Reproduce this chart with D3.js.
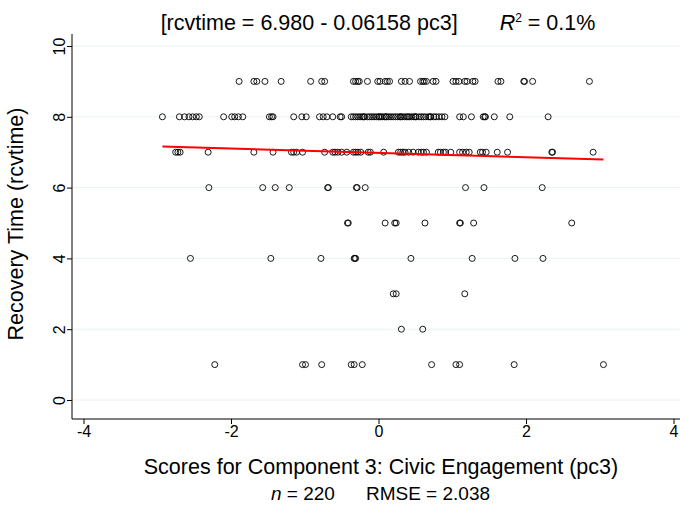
<!DOCTYPE html>
<html>
<head>
<meta charset="utf-8">
<script src="https://cdn.jsdelivr.net/npm/d3@7"></script>
<style>
  body { margin: 0; background: #fff; }
  svg { display: block; font-family: "Liberation Sans", Arial, sans-serif; }
</style>
</head>
<body>
<div id="chart"></div>
<script>
// pc3 scores grouped by recovery time (rcvtime)
const pc3At9 = [-1.89, -1.69, -1.65, -1.54, -1.32, -0.92, -0.77, -0.73, -0.34, -0.31, -0.28, -0.26,
  -0.15, -0.01, 0.02, 0.09, 0.12, 0.15, 0.31, 0.36, 0.42, 0.57, 0.60, 0.62, 0.65, 0.74, 0.78,
  1.01, 1.05, 1.09, 1.17, 1.20, 1.28, 1.31, 1.62, 1.66, 1.97, 1.98, 2.09, 2.86];
const pc3At8 = [-2.93, -2.70, -2.63, -2.57, -2.52, -2.47, -2.43, -2.10, -1.99, -1.95, -1.90, -1.84,
  -1.48, -1.45, -1.43, -1.15, -1.04, -0.98, -0.80, -0.75, -0.70, -0.62, -0.52, -0.50,
  -0.37, -0.34, -0.31, -0.28, -0.25, -0.22, -0.20, -0.19, -0.15, -0.12, -0.09, -0.06, -0.03,
  0.00, 0.01, 0.03, 0.05, 0.08, 0.10, 0.11, 0.14, 0.17, 0.20, 0.23, 0.26, 0.29, 0.30, 0.32,
  0.35, 0.38, 0.40, 0.42, 0.45, 0.48, 0.50, 0.51, 0.55, 0.58, 0.61, 0.64, 0.68, 0.70, 0.71,
  0.75, 0.78, 0.82, 0.86, 0.90, 1.10, 1.15, 1.26, 1.42, 1.44, 1.45, 1.57, 1.78, 2.30];
const pc3At7 = [-2.75, -2.72, -2.69, -2.31, -1.69, -1.43, -1.18, -1.15, -1.11, -1.03, -0.73,
  -0.62, -0.59, -0.55, -0.50, -0.43, -0.34, -0.31, -0.28, -0.24, -0.14, -0.11, 0.07, 0.27,
  0.30, 0.33, 0.36, 0.41, 0.47, 0.54, 0.58, 0.61, 0.65, 0.81, 0.84, 0.88, 0.91, 0.98, 1.10,
  1.14, 1.19, 1.23, 1.38, 1.41, 1.46, 1.61, 1.75, 2.35, 2.36, 2.91];
const pc3At6 = [-2.30, -1.57, -1.40, -1.21, -0.69, -0.68, -0.30, -0.29, -0.18, 1.18, 1.43, 2.22];
const pc3At5 = [-0.42, -0.41, 0.09, 0.22, 0.24, 0.63, 1.10, 1.11, 1.29, 2.62];
const pc3At4 = [-2.55, -1.46, -0.78, -0.33, -0.32, -0.31, 0.44, 1.27, 1.85, 2.23];
const pc3At3 = [0.20, 0.24, 1.17];
const pc3At2 = [0.31, 0.60];
const pc3At1 = [-2.22, -1.03, -0.99, -0.77, -0.37, -0.33, -0.22, 0.72, 1.05, 1.10, 1.84, 3.05];

// fitted line, from the title
const intercept = 6.980;
const slope = -0.06158;

const xTicks = [-4, -2, 0, 2, 4];
const yTicks = [0, 2, 4, 6, 8, 10];

const groups = [[9, pc3At9], [8, pc3At8], [7, pc3At7], [6, pc3At6], [5, pc3At5],
  [4, pc3At4], [3, pc3At3], [2, pc3At2], [1, pc3At1]];
const punti = [];
groups.forEach(([rcv, xs]) => xs.forEach(v => punti.push({ pc3: v, rcv })));

const width = 680, height = 506;
const svg = d3.select('#chart').append('svg')
  .attr('width', width).attr('height', height);

// scales: tick positions measured on the reference
const x = d3.scaleLinear().domain([-4, 4]).range([83.5, 673.5]);
const y = d3.scaleLinear().domain([0, 10]).range([400, 46]);
const plotL = 72, plotR = 680, plotT = 34, plotB = 419;

// gridlines
svg.append('g').selectAll('line')
  .data(yTicks).join('line')
  .attr('x1', plotL).attr('x2', plotR)
  .attr('y1', d => y(d)).attr('y2', d => y(d))
  .attr('stroke', '#eaf2f3').attr('stroke-width', 1);

// axes (plain hyphen for negatives, like the original)
const fmt = d => String(d);
const yAxis = svg.append('g')
  .attr('transform', `translate(${plotL},0)`)
  .call(d3.axisLeft(y).tickValues(yTicks).tickFormat(fmt).tickSize(5).tickSizeOuter(0));
yAxis.select('.domain').attr('d', `M0,${plotT}V${plotB}`);
yAxis.selectAll('.tick text')
  .attr('x', null).attr('dy', null)
  .attr('transform', 'translate(-7,0) rotate(-90)')
  .attr('text-anchor', 'middle')
  .style('font-size', '16px').style('fill', '#000');

const xAxis = svg.append('g')
  .attr('transform', `translate(0,${plotB})`)
  .call(d3.axisBottom(x).tickValues(xTicks).tickFormat(fmt).tickSize(5).tickPadding(2).tickSizeOuter(0));
xAxis.select('.domain').attr('d', `M${plotL},0H${plotR}`);
xAxis.selectAll('.tick text')
  .style('font-size', '16px').style('fill', '#000');
svg.selectAll('.domain, .tick line').attr('stroke', '#000').attr('stroke-width', 1);

// points
svg.append('g').selectAll('circle')
  .data(punti).join('circle')
  .attr('cx', d => x(d.pc3))
  .attr('cy', d => y(d.rcv))
  .attr('r', 3)
  .attr('fill', 'none')
  .attr('stroke', '#000')
  .attr('stroke-width', 0.9);

// regression line across the observed range
const [xmin, xmax] = d3.extent(punti, d => d.pc3);
svg.append('path')
  .datum([xmin, xmax])
  .attr('fill', 'none')
  .attr('stroke', '#ff0000')
  .attr('stroke-width', 2)
  .attr('d', d3.line().x(v => x(v)).y(v => y(intercept + slope * v)));

// titles
const title = svg.append('text')
  .attr('x', 378).attr('y', 30)
  .attr('text-anchor', 'middle')
  .style('font-size', '21.5px');
title.append('tspan').text('[rcvtime = 6.980 - 0.06158 pc3]');
title.append('tspan').attr('dx', 42).style('font-style', 'italic').text('R');
title.append('tspan').attr('dy', -8).style('font-size', '12px').text('2');
title.append('tspan').attr('dy', 8).style('white-space', 'pre').text(' = 0.1%');

svg.append('text')
  .attr('transform', 'translate(23,224) rotate(-90)')
  .attr('text-anchor', 'middle')
  .style('font-size', '21.5px')
  .text('Recovery Time (rcvtime)');

svg.append('text')
  .attr('x', 381).attr('y', 474)
  .attr('text-anchor', 'middle')
  .style('font-size', '21.5px')
  .text('Scores for Component 3: Civic Engagement (pc3)');

const note = svg.append('text')
  .attr('x', 380.5).attr('y', 500)
  .attr('text-anchor', 'middle')
  .style('font-size', '19px');
note.append('tspan').style('font-style', 'italic').text('n');
note.append('tspan').style('white-space', 'pre').text(' = 220');
note.append('tspan').attr('dx', 31).text('RMSE = 2.038');
</script>
</body>
</html>
